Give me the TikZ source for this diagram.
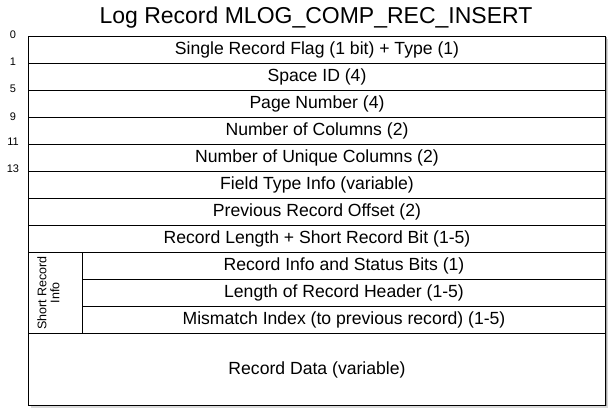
\documentclass[tikz,border=0pt]{standalone}
\usepackage{fontspec}
\setmainfont{Liberation Sans}
\begin{document}
\begin{tikzpicture}[x=1pt,y=-1pt,
  field/.style={draw, line width=1pt, inner sep=0pt, anchor=north west,
    minimum height=27pt, font=\fontsize{17.6}{20}\selectfont},
  wide/.style={field, minimum width=577pt},
  narrow/.style={field, minimum width=523pt},
  offset/.style={font=\fontsize{11}{12}\selectfont, inner sep=0pt}]
\useasboundingbox (0,0) rectangle (608,411);

% soft drop shadow behind the record layout
\fill[black!15] (31,39) rectangle (608,408);
\fill[black!35] (29.5,37.5) rectangle (606.5,406.5);
\fill[white] (28,36) rectangle (605,405);

% title
\node (title) at (316,18) {\fontsize{23}{26}\selectfont Log Record MLOG\_COMP\_REC\_INSERT};

% fixed header fields
\node[wide] (flag)    at (28,36)  {Single Record Flag (1 bit) + Type (1)};
\node[wide] (space)   at (28,63)  {Space ID (4)};
\node[wide] (page)    at (28,90)  {Page Number (4)};
\node[wide] (ncols)   at (28,117) {Number of Columns (2)};
\node[wide] (nuniq)   at (28,144) {Number of Unique Columns (2)};
\node[wide] (ftype)   at (28,171) {Field Type Info (variable)};
\node[wide] (prevoff) at (28,198) {Previous Record Offset (2)};
\node[wide] (reclen)  at (28,225) {Record Length + Short Record Bit (1-5)};

% short record info group
\node[field, minimum width=54pt, minimum height=81pt] (short) at (28,252) {};
\node[rotate=90, align=center, inner sep=0pt,
      font=\fontsize{12.5}{13}\selectfont] (shortlbl) at ([xshift=-7pt]short.center) {Short Record\\Info};
\node[narrow] (status)   at (82,252) {Record Info and Status Bits (1)};
\node[narrow] (hdrlen)   at (82,279) {Length of Record Header (1-5)};
\node[narrow] (mismatch) at (82,306) {Mismatch Index (to previous record) (1-5)};

% record payload
\node[wide, minimum height=72pt] (data) at (28,333) {Record Data (variable)};

% byte offsets
\node[offset] (o0)  at (13,35)  {0};
\node[offset] (o1)  at (13,61.5)  {1};
\node[offset] (o5)  at (13,89)  {5};
\node[offset] (o9)  at (13,116.5) {9};
\node[offset] (o11) at (13,142) {11};
\node[offset] (o13) at (13,169) {13};
\end{tikzpicture}
\end{document}
